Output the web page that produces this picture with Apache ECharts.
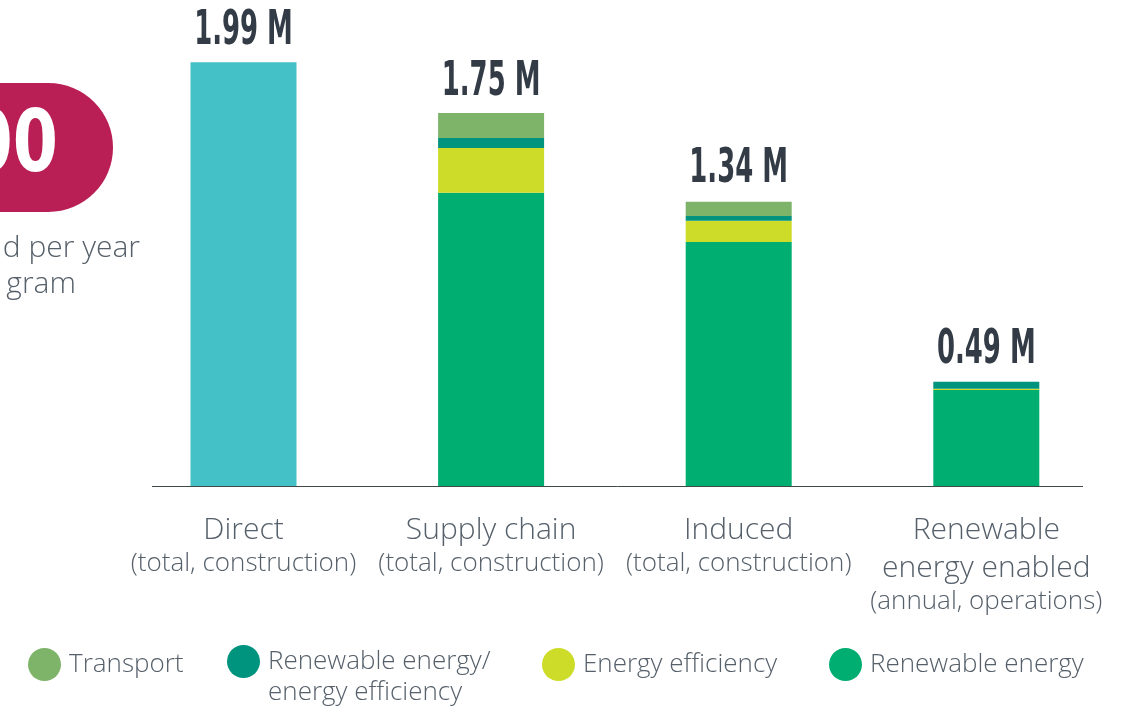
<!DOCTYPE html>
<html><head><meta charset="utf-8">
<script src="https://cdn.jsdelivr.net/npm/echarts@6/dist/echarts.min.js"></script>
<style>html,body{margin:0;padding:0;background:#fff}#chart{width:1130px;height:709px}</style>
</head><body><div id="chart"></div>
<script>
// ---- data ----
const categories = ['Direct', 'Supply chain', 'Induced', 'Renewable\nenergy enabled'];
const categorySubLabels = ['(total, construction)', '(total, construction)', '(total, construction)', '(annual, operations)'];
const directJobs = [1.99, '-', '-', '-'];
const renewableEnergy = ['-', 1.377, 1.146, 0.451];
const energyEfficiency = ['-', 0.210, 0.099, 0.005];
const renewableEfficiency = ['-', 0.047, 0.023, 0.033];
const transport = ['-', 0.117, 0.066, '-'];
const totals = [1.99, 1.75, 1.34, 0.49];
const legendNames = ['Transport', 'Renewable energy/\nenergy efficiency', 'Energy efficiency', 'Renewable energy'];

// ---- styles ----
const lightFont = "'Open Sans', 'Lato', sans-serif";
const condFont = "'DejaVu Sans Condensed', 'DejaVu Sans', sans-serif";
const textGray = '#56606a';
const C = {
  direct: '#43C1C7', transport: '#7DB46A', reee: '#00937E', ee: '#CDDC29', re: '#00AE72'
};

const chart = echarts.init(document.getElementById('chart'), null, {renderer: 'canvas'});

function legendCfg(name, left, top, extra) {
  return Object.assign({
    left: left, top: top, padding: 0, itemGap: 0,
    icon: 'circle', itemWidth: 33, itemHeight: 33, selectedMode: false,
    data: [name],
    textStyle: {fontFamily: lightFont, fontWeight: 300, fontSize: 26, color: textGray, padding: [0, 0, 0, 3]}
  }, extra || {});
}

const option = {
  animation: false,
  backgroundColor: '#fff',
  grid: {left: 119.7, right: 19.9, top: 60, bottom: 223},
  xAxis: {
    type: 'category', data: categories,
    axisLine: {show: false}, axisTick: {show: false},
    axisLabel: {
      interval: 0, margin: 25,
      formatter: function (v, i) {
        return v.split('\n').map(s => '{a|' + s + '}').join('\n') + '\n{b|' + categorySubLabels[i] + '}';
      },
      rich: {
        a: {fontFamily: lightFont, fontWeight: 300, fontSize: 30, lineHeight: 38, color: textGray},
        b: {fontFamily: lightFont, fontWeight: 300, fontSize: 26, lineHeight: 29, color: textGray}
      }
    }
  },
  yAxis: {type: 'value', min: 0, max: 2, show: false},
  legend: [
    legendCfg(legendNames[0], 28, 648),
    legendCfg(legendNames[1], 227, 615, {
      formatter: n => ' \n' + n,
      textStyle: {fontFamily: lightFont, fontWeight: 300, fontSize: 26, color: textGray, lineHeight: 31, padding: [0, 0, 0, 3]}
    }),
    legendCfg(legendNames[2], 542, 648),
    legendCfg(legendNames[3], 829, 648)
  ],
  series: [
    {name: 'Direct', type: 'bar', stack: 'jobs', barWidth: 106, data: directJobs, itemStyle: {color: C.direct}},
    {name: legendNames[3], type: 'bar', stack: 'jobs', barWidth: 106, data: renewableEnergy, itemStyle: {color: C.re}},
    {name: legendNames[2], type: 'bar', stack: 'jobs', barWidth: 106, data: energyEfficiency, itemStyle: {color: C.ee}},
    {name: legendNames[1], type: 'bar', stack: 'jobs', barWidth: 106, data: renewableEfficiency, itemStyle: {color: C.reee}},
    {name: legendNames[0], type: 'bar', stack: 'jobs', barWidth: 106, data: transport, itemStyle: {color: C.transport}},
    {
      name: 'Total', type: 'custom', silent: true, z: 10,
      data: totals.map((v, i) => [i, v]),
      encode: {x: 0, y: 1},
      renderItem: function (params, api) {
        const pt = api.coord([api.value(0), api.value(1)]);
        return {
          type: 'text', x: pt[0], y: pt[1] - 31, scaleX: 0.6,
          style: {
            text: api.value(1).toFixed(2) + ' M', fill: '#333C46',
            align: 'center', verticalAlign: 'middle',
            font: 'bold 48px ' + condFont
          }
        };
      }
    }
  ],
  graphic: [
    {type: 'line', shape: {x1: 152, y1: 486.5, x2: 1083, y2: 486.5}, style: {stroke: '#3f4a45', lineWidth: 1}, z: 5},
    {type: 'rect', shape: {x: -200, y: 83, width: 313, height: 129, r: 64.5}, style: {fill: '#B91F55'}},
    {type: 'text', x: 58, y: 149, scaleX: 0.85, style: {text: '000', fill: '#fff', align: 'right', verticalAlign: 'middle',
      font: 'bold 85px ' + condFont}},
    {type: 'text', x: 140, y: 248, style: {text: 'd per year', fill: textGray, align: 'right', verticalAlign: 'middle',
      font: "300 30px 'Open Sans', sans-serif"}},
    {type: 'text', x: 76, y: 284, style: {text: 'gram', fill: textGray, align: 'right', verticalAlign: 'middle',
      font: "300 30px 'Open Sans', sans-serif"}}
  ]
};
chart.setOption(option);
</script>
</body></html>
